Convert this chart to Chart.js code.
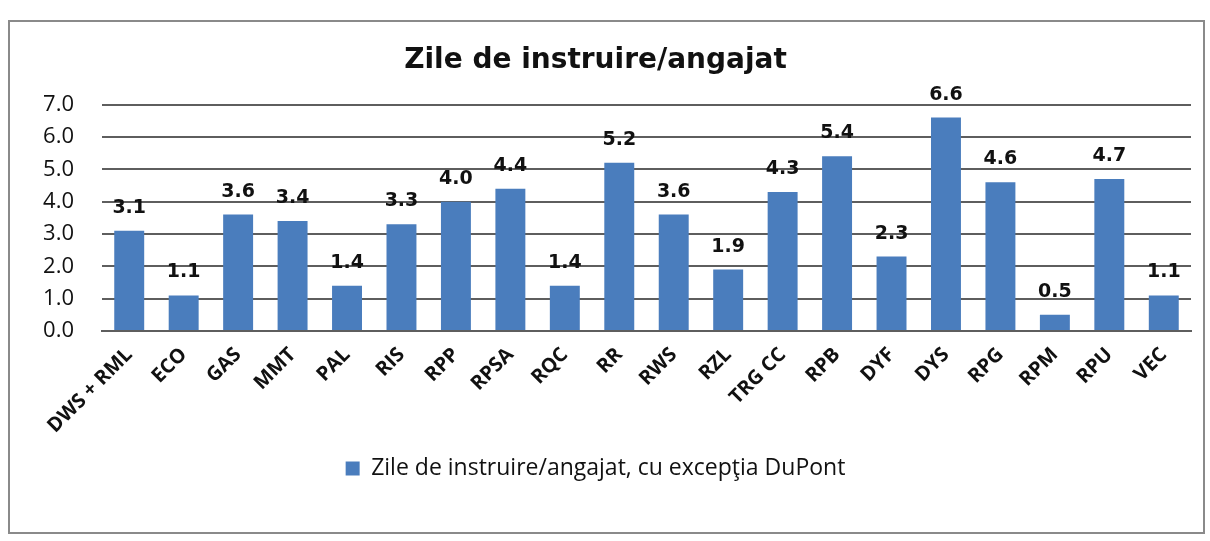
<!DOCTYPE html>
<html>
<head>
<meta charset="utf-8">
<script src="https://cdn.jsdelivr.net/npm/chart.js@4.4.1/dist/chart.umd.min.js"></script>
<style>
  html, body { margin: 0; padding: 0; background: #fff; }
  #wrap { position: relative; width: 1210px; height: 541px; }
  #frame { position: absolute; left: 8px; top: 20px; width: 1197px; height: 514px; border: 2px solid #8a8a8a; box-sizing: border-box; }
  canvas { position: absolute; left: 0; top: 0; }
</style>
</head>
<body>
<div id="wrap">
  <div id="frame"></div>
  <canvas id="chart" width="1210" height="541"></canvas>
</div>
<script>
// categories + values
const units = ['DWS + RML', 'ECO', 'GAS', 'MMT', 'PAL', 'RIS', 'RPP', 'RPSA', 'RQC', 'RR',
               'RWS', 'RZL', 'TRG CC', 'RPB', 'DYF', 'DYS', 'RPG', 'RPM', 'RPU', 'VEC'];
const trainingDays = [3.1, 1.1, 3.6, 3.4, 1.4, 3.3, 4.0, 4.4, 1.4, 5.2,
                      3.6, 1.9, 4.3, 5.4, 2.3, 6.6, 4.6, 0.5, 4.7, 1.1];
const seriesName = 'Zile de instruire/angajat, cu excepţia DuPont';
const chartTitle = 'Zile de instruire/angajat';

const gridColor = '#5e5e5e';
const barColor = '#4a7dbd';

// value labels above each bar
const valueLabels = {
  id: 'valueLabels',
  afterDatasetsDraw(chart) {
    const ctx = chart.ctx;
    const meta = chart.getDatasetMeta(0);
    ctx.save();
    ctx.font = 'bold 19px "DejaVu Sans"';
    ctx.fillStyle = '#111';
    ctx.textAlign = 'center';
    ctx.textBaseline = 'alphabetic';
    meta.data.forEach((bar, i) => {
      ctx.fillText(trainingDays[i].toFixed(1), bar.x, bar.y - 18);
    });
    ctx.restore();
  }
};

new Chart(document.getElementById('chart'), {
  type: 'bar',
  data: {
    labels: units,
    datasets: [{
      label: seriesName,
      data: trainingDays,
      backgroundColor: barColor,
      borderWidth: 0,
      categoryPercentage: 1,
      barPercentage: 0.55
    }]
  },
  plugins: [valueLabels],
  options: {
    responsive: false,
    animation: false,
    layout: { padding: { left: 0, right: 19, top: 0, bottom: 51 } },
    plugins: {
      title: {
        display: true,
        text: chartTitle,
        color: '#111',
        font: { family: 'DejaVu Sans', size: 28, weight: 'bold' },
        padding: { top: 44, bottom: 27 }
      },
      legend: {
        position: 'bottom',
        labels: {
          color: '#111',
          font: { family: 'Open Sans', size: 23 },
          boxWidth: 14,
          boxHeight: 14,
          padding: 10
        }
      },
      tooltip: { enabled: false }
    },
    scales: {
      x: {
        grid: { display: false },
        border: { display: true, color: gridColor, width: 2 },
        ticks: {
          color: '#111',
          font: { family: 'Open Sans', size: 20, weight: 'bold' },
          minRotation: 45,
          maxRotation: 45,
          padding: 4
        },
        afterFit(scale) { scale.height = 116; }
      },
      y: {
        min: 0,
        max: 7,
        grid: { color: gridColor, lineWidth: 2, drawTicks: false },
        border: { display: false },
        ticks: {
          stepSize: 1,
          color: '#111',
          padding: 28,
          font: { family: 'Open Sans', size: 22 },
          callback: v => v.toFixed(1)
        },
        afterFit(scale) { scale.width = 102; }
      }
    }
  }
});
</script>
</body>
</html>
